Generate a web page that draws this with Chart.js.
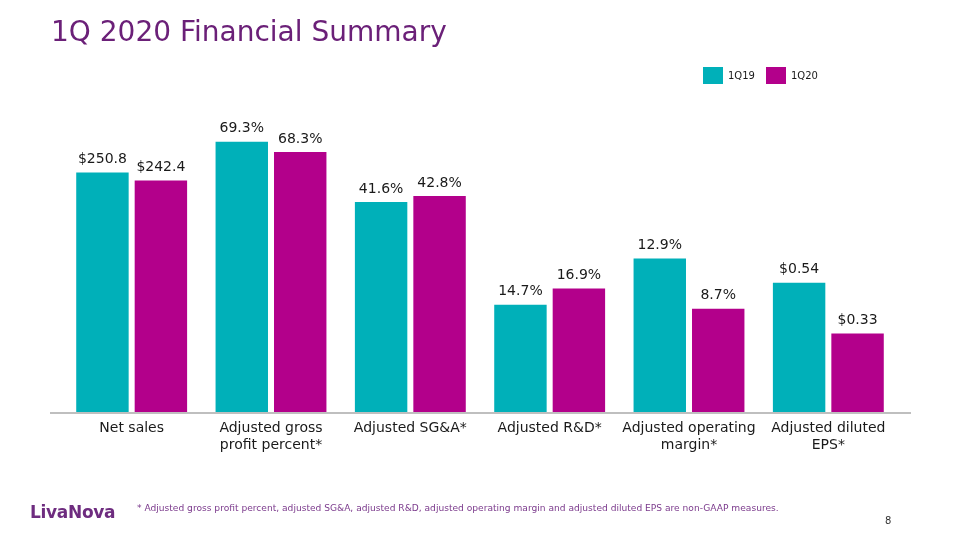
<!DOCTYPE html>
<html>
<head>
<meta charset="utf-8">
<script src="https://cdn.jsdelivr.net/npm/chart.js@4.4.1/dist/chart.umd.min.js"></script>
<style>
  html, body { margin: 0; padding: 0; background: #ffffff; }
  body { width: 958px; height: 540px; position: relative; overflow: hidden; font-family: "DejaVu Sans", Verdana, sans-serif; }
  #wrap { position: absolute; left: 0; top: 0; width: 958px; height: 540px; }
  #title { position: absolute; left: 51px; top: 15px; font-size: 28px; color: #6b2078; white-space: nowrap; }
  #note { position: absolute; left: 137px; top: 503px; font-size: 9.1px; color: #7b3a8c; white-space: nowrap; }
  #page { position: absolute; left: 885px; top: 515px; font-size: 10px; color: #333333; }
  #logo { position: absolute; left: 30px; top: 502px; font-size: 17px; font-weight: bold; color: #6e2c7f; letter-spacing: -0.3px; white-space: nowrap; }
</style>
</head>
<body>
<div id="wrap"><canvas id="c" width="958" height="540"></canvas></div>
<div id="title">1Q 2020 Financial Summary</div>
<div id="logo">LivaNova</div>
<div id="note">* Adjusted gross profit percent, adjusted SG&amp;A, adjusted R&amp;D, adjusted operating margin and adjusted diluted EPS are non-GAAP measures.</div>
<div id="page">8</div>
<script>
// ---- data ----
const categories = [
  ["Net sales"],
  ["Adjusted gross", "profit percent*"],
  ["Adjusted SG&A*"],
  ["Adjusted R&D*"],
  ["Adjusted operating", "margin*"],
  ["Adjusted diluted", "EPS*"]
];
const seriesNames = ["1Q19", "1Q20"];
const labels1Q19 = ["$250.8", "69.3%", "41.6%", "14.7%", "12.9%", "$0.54"];
const labels1Q20 = ["$242.4", "68.3%", "42.8%", "16.9%", "8.7%", "$0.33"];
// bar heights as drawn on the slide (each metric has its own visual scale)
const heights1Q19 = [239.6, 270.3, 210, 107.3, 153.6, 129.3];
const heights1Q20 = [231.6, 260, 216, 123.6, 103.3, 78.6];
const yMax = 300;

const colors = ["#00b0b9", "#b3008b"];

const valueLabels = {
  id: "valueLabels",
  afterDatasetsDraw(chart) {
    const ctx = chart.ctx;
    const texts = [labels1Q19, labels1Q20];
    ctx.save();
    ctx.font = '14px "DejaVu Sans", Verdana, sans-serif';
    ctx.fillStyle = "#1a1a1a";
    ctx.textAlign = "center";
    ctx.textBaseline = "middle";
    chart.data.datasets.forEach((ds, di) => {
      const meta = chart.getDatasetMeta(di);
      meta.data.forEach((bar, i) => {
        ctx.fillText(texts[di][i], bar.x, bar.y - 13);
      });
    });
    ctx.restore();
  }
};

const baseLine = {
  id: "baseLine",
  afterDatasetsDraw(chart) {
    const ctx = chart.ctx;
    const y = chart.scales.y.getPixelForValue(0) + 1;
    ctx.save();
    ctx.strokeStyle = "#bfbfbf";
    ctx.lineWidth = 2;
    ctx.beginPath();
    ctx.moveTo(50, y);
    ctx.lineTo(911, y);
    ctx.stroke();
    ctx.restore();
  }
};

const slideLegend = {
  id: "slideLegend",
  afterDraw(chart) {
    const ctx = chart.ctx;
    const xs = [703, 766];
    ctx.save();
    ctx.font = '10px "DejaVu Sans", Verdana, sans-serif';
    ctx.textBaseline = "middle";
    ctx.textAlign = "left";
    chart.data.datasets.forEach((ds, i) => {
      ctx.fillStyle = ds.backgroundColor;
      ctx.fillRect(xs[i], 67, 20, 17);
      ctx.fillStyle = "#1a1a1a";
      ctx.fillText(ds.label, xs[i] + 25, 76.5);
    });
    ctx.restore();
  }
};

new Chart(document.getElementById("c"), {
  type: "bar",
  data: {
    labels: categories,
    datasets: [
      { label: seriesNames[0], data: heights1Q19, backgroundColor: colors[0], borderWidth: 0,
        barPercentage: 0.897, categoryPercentage: 0.839 },
      { label: seriesNames[1], data: heights1Q20, backgroundColor: colors[1], borderWidth: 0,
        barPercentage: 0.897, categoryPercentage: 0.839 }
    ]
  },
  options: {
    responsive: false,
    animation: false,
    layout: { padding: { left: 62, right: 60, top: 112, bottom: 0 } },
    plugins: {
      legend: { display: false },
      tooltip: { enabled: false },
      title: { display: false }
    },
    scales: {
      x: {
        grid: { display: false, drawTicks: false },
        border: { display: false },
        ticks: {
          padding: 8,
          color: "#1a1a1a",
          font: { family: '"DejaVu Sans", Verdana, sans-serif', size: 14, lineHeight: 1.2 },
          maxRotation: 0, autoSkip: false
        },
        afterFit(scale) { scale.height = 128; }
      },
      y: {
        display: false,
        min: 0,
        max: yMax
      }
    }
  },
  plugins: [valueLabels, baseLine, slideLegend]
});
</script>
</body>
</html>
